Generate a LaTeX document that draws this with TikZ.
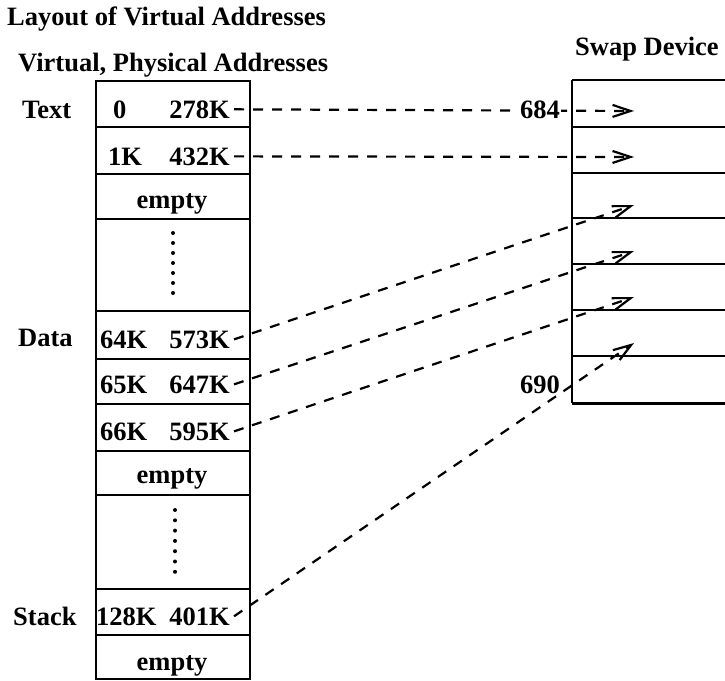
\documentclass[tikz,border=0pt]{standalone}
\usepackage{fontspec}
\setmainfont{Liberation Serif}
\usetikzlibrary{arrows.meta}
\tikzset{
  cell/.style={draw, line width=2.4pt, minimum width=154pt, inner sep=0pt, anchor=north west},
  slot/.style={minimum width=153pt, inner sep=0pt, anchor=north west},
  frame/.style={line width=2.4pt},
  lbl/.style={font=\fontsize{26.5}{30}\selectfont\bfseries, inner sep=0pt},
  tag/.style={lbl, fill=white, inner sep=1pt},
  link/.style={line width=2.2pt, dash pattern=on 10pt off 9pt, -{Straight Barb[length=18pt,width=12pt]}},
  dotmark/.style={fill=black}
}
\begin{document}
\begin{tikzpicture}[x=1pt,y=-1pt]
\useasboundingbox (0,0) rectangle (725,680);

% titles
\node[lbl, anchor=base west] (title) at (7,25) {Layout of Virtual Addresses};
\node[lbl, anchor=base west] (head) at (18,71) {Virtual, Physical Addresses};
\node[lbl, anchor=base west] (swaphead) at (575,55) {Swap Device};

% left column cells
\node[cell, minimum height=46pt] (c1) at (95,80) {};
\node[cell, minimum height=47pt] (c2) at (95,126) {};
\node[cell, minimum height=45pt] (c3) at (95,173) {};
\node[cell, minimum height=92pt] (c4) at (95,218) {};
\node[cell, minimum height=48pt] (c5) at (95,310) {};
\node[cell, minimum height=45pt] (c6) at (95,358) {};
\node[cell, minimum height=47pt] (c7) at (95,403) {};
\node[cell, minimum height=44pt] (c8) at (95,450) {};
\node[cell, minimum height=94pt] (c9) at (95,494) {};
\node[cell, minimum height=46pt] (c10) at (95,588) {};
\node[cell, minimum height=44pt] (c11) at (95,634) {};

% side labels
\node[lbl, anchor=base west] (ltext) at (22,118) {Text};
\node[lbl, anchor=base west] (ldata) at (18,346) {Data};
\node[lbl, anchor=base west] (lstack) at (13,625) {Stack};

% cell contents
\node[lbl, anchor=base west] (v1) at (113,118) {0};
\node[lbl, anchor=base east] (p1) at (230,118) {278K};
\node[lbl, anchor=base west] (v2) at (108,165) {1K};
\node[lbl, anchor=base east] (p2) at (230,165) {432K};
\node[lbl, anchor=base] (e1) at (172,208) {empty};
\node[lbl, anchor=base west] (v5) at (100,348) {64K};
\node[lbl, anchor=base east] (p5) at (230,348) {573K};
\node[lbl, anchor=base west] (v6) at (100,393) {65K};
\node[lbl, anchor=base east] (p6) at (230,393) {647K};
\node[lbl, anchor=base west] (v7) at (100,440) {66K};
\node[lbl, anchor=base east] (p7) at (230,440) {595K};
\node[lbl, anchor=base] (e2) at (172,483) {empty};
\node[lbl, anchor=base west] (v10) at (96,625) {128K};
\node[lbl, anchor=base east] (p10) at (230,625) {401K};
\node[lbl, anchor=base] (e3) at (172,670) {empty};

% vertical dots
\foreach \i in {0,...,6} {
  \fill[dotmark] (173,233+10*\i) circle (2pt);
  \fill[dotmark] (175,510+10.3*\i) circle (2pt);
}

% swap device slots
\node[slot, minimum height=47pt] (s1) at (572,80) {};
\node[slot, minimum height=46pt] (s2) at (572,127) {};
\node[slot, minimum height=45pt] (s3) at (572,173) {};
\node[slot, minimum height=46pt] (s4) at (572,218) {};
\node[slot, minimum height=46pt] (s5) at (572,264) {};
\node[slot, minimum height=46pt] (s6) at (572,310) {};
\node[slot, minimum height=47pt] (s7) at (572,356) {};
\draw[frame] (s1.north west) -- (s7.south west);
\foreach \s in {s1,s2,s3,s4,s5,s6,s7} {
  \draw[frame] (\s.north west) -- (\s.north east);
}
\draw[frame] (s7.south west) -- (s7.south east);

% arrow targets
\coordinate (t1) at (634,111);
\coordinate (t2) at (634,157);
\coordinate (t3) at (634,205);
\coordinate (t4) at (634,251);
\coordinate (t5) at (634,297);
\coordinate (t6) at (634,343);

% connectors
\draw[link] ([xshift=4pt]p1.east) -- (t1);
\draw[link] ([xshift=4pt]p2.east) -- (t2);
\draw[link] ([xshift=4pt]p5.east) -- (t3);
\draw[link] ([xshift=4pt]p6.east) -- (t4);
\draw[link] ([xshift=4pt]p7.east) -- (t5);
\draw[link] ([xshift=4pt]p10.east) -- (t6);

% swap block numbers
\node[tag, anchor=base] (n684) at (540,118) {684};
\node[tag, anchor=base east] (n690) at (561,393) {690};
\end{tikzpicture}
\end{document}
